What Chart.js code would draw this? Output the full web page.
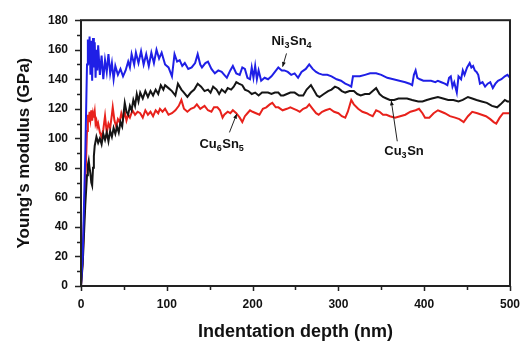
<!DOCTYPE html>
<html>
<head>
<meta charset="utf-8">
<script src="https://cdn.jsdelivr.net/npm/chart.js@4/dist/chart.umd.min.js"></script>
<style>
html,body{margin:0;padding:0;background:#fff;}
#wrap{width:531px;height:343px;position:relative;}
</style>
</head>
<body>
<div id="wrap"><canvas id="c" width="531" height="343"></canvas></div>
<script>
// ---- data ----
const ni3sn4Depth = [0,2,5,7,8,9,10,11,12,13,14,15,16,17,18,19,20,22,24,26,28,30,32,34,36,38,40,43,46,49,52,55,57,59,62,64,67,70,73,76,79,82,85,88,91,94,98,102,106,109,112,115,118,121,125,129,133,136,139,141,145,148,152,156,160,164,167,170,174,177,181,185,188,191,194,197,199,201,203,205,207,210,214,218,222,226,230,234,237,241,245,249,253,257,262,266,270,274,277,282,287,292,298,303,308,312,315,317,320,325,331,337,344,350,357,364,371,378,383,386,388,390,392,395,399,403,408,413,416,420,424,427,429,431,433,435,438,440,443,445,447,450,453,455,457,459,461,463,465,468,471,474,477,480,483,486,490,494,497,500];
const ni3sn4Modulus = [0,20,90,150,167,150,169,143,166,139,168,148,165,141,160,146,163,143,156,140,153,145,157,144,151,140,149,143,147,142,146,152,148,157,150,158,151,159,150,157,149,158,151,160,154,158,150,148,142,157,152,153,149,151,147,148,151,157,150,148,151,152,147,144,146,145,143,141,146,149,144,143,148,147,141,140,148,141,149,140,146,139,141,140,142,145,148,146,146,145,143,144,141,145,147,150,147,145,144,143,143,142,140,139,137,136,135,142,142,142,143,144,144,143,141,140,139,138,137,136,143,146,141,140,139,139,139,138,139,138,137,136,141,142,135,138,131,142,140,146,143,148,151,148,149,146,145,143,137,138,135,137,138,134,137,139,140,142,143,141];

const cu3snDepth = [0,2,5,7,8,9,10,11,12,13,14,15,16,18,20,22,24,26,28,30,32,34,36,38,40,42,44,46,48,51,53,55,57,59,61,63,65,67,69,72,75,78,81,84,87,90,93,96,98,102,106,110,113,117,120,124,128,132,136,140,144,148,151,154,158,161,164,168,171,175,178,181,184,188,191,195,199,203,207,211,215,218,222,226,230,233,236,240,244,249,254,259,263,268,272,275,278,283,288,292,296,300,304,308,313,318,322,326,331,336,340,344,348,352,356,360,365,370,375,380,386,393,398,403,409,416,422,428,434,440,445,451,456,461,467,473,479,485,489,494,497,500];
const cu3snModulus = [0,15,55,75,82,85,80,76,70,68,80,88,95,101,97,100,96,103,99,104,98,105,101,107,103,108,104,111,108,124,118,116,122,119,126,122,130,125,131,127,132,128,132,129,133,130,136,133,136,134,132,129,137,133,131,128,131,133,137,135,132,133,131,135,133,130,133,131,134,133,135,138,137,136,133,132,130,131,129,131,131,131,130,131,131,129,129,130,131,131,129,129,133,136,132,129,128,130,132,133,135,134,132,131,132,132,130,129,130,130,132,134,130,128,127,126,126,127,127,127,126,125,125,126,127,128,127,126,126,125,126,128,127,126,125,124,122,121,123,126,125,125];

const cu6sn5Depth = [0,2,5,7,8,9,10,11,12,13,14,15,16,17,18,19,20,22,24,26,28,30,32,34,36,37,39,41,43,45,47,49,51,53,55,57,60,63,66,69,72,75,78,81,84,87,90,92,95,98,102,106,110,114,117,120,124,128,132,135,139,144,148,152,155,159,162,165,167,171,174,177,181,185,188,191,194,197,200,204,208,212,216,220,223,227,230,235,240,244,248,252,255,259,263,266,270,274,277,281,285,290,295,300,304,308,311,315,318,323,328,333,336,340,344,348,352,356,360,366,372,378,384,390,394,398,401,406,411,416,420,424,430,436,441,446,451,456,462,467,472,477,481,484,488,492,496,500];
const cu6sn5Modulus = [0,18,70,105,116,111,118,113,119,112,117,114,118,110,112,108,110,104,101,106,115,104,110,107,116,121,112,108,113,111,117,113,118,112,116,114,119,116,118,117,114,119,116,118,115,119,117,120,118,120,116,117,119,122,126,120,118,120,121,123,120,122,119,118,121,121,119,114,116,118,117,119,117,114,111,115,117,119,118,117,116,120,121,123,124,121,121,119,120,121,120,119,118,120,121,123,120,117,116,118,119,120,118,117,115,114,118,126,123,120,118,117,116,115,119,118,116,116,115,114,115,116,118,119,120,117,114,114,117,119,118,117,115,114,113,111,115,118,117,116,115,113,111,110,114,117,117,117];

const seriesNames = ['Ni3Sn4', 'Cu3Sn', 'Cu6Sn5'];
const xTickValues = [0,100,200,300,400,500];
const yTickValues = [0,20,40,60,80,100,120,140,160,180];

const toPts = (xs, ys) => xs.map((x, i) => ({x: x, y: ys[i]}));

// annotations: [main,sub,main,sub], label anchor (data coords), arrow from/to (data coords)
const notes = [
  {parts: ['Ni','3','Sn','4'], at: [222, 163], from: [239.5, 157.5], to: [235, 148.5]},
  {parts: ['Cu','6','Sn','5'], at: [138, 93.5], from: [173, 104], to: [181.5, 116.5]},
  {parts: ['Cu','3','Sn'], at: [353.5, 89], from: [368.6, 98], to: [361.6, 125.5]}
];

const FONT = '"Liberation Sans", Arial, sans-serif';

const decor = {
  id: 'decor',
  afterDraw(chart) {
    const {ctx, chartArea: a, scales: {x, y}} = chart;
    ctx.save();
    ctx.strokeStyle = '#222';
    ctx.lineWidth = 2;
    ctx.strokeRect(a.left, a.top, a.right - a.left, a.bottom - a.top);
    ctx.lineWidth = 1.5;
    ctx.beginPath();
    for (let v = 0; v <= 180; v += 10) {
      const py = Math.round(y.getPixelForValue(v)) + 0.5;
      const len = (v % 20 === 0) ? 6 : 4;
      ctx.moveTo(a.left, py); ctx.lineTo(a.left - len, py);
    }
    for (let v = 0; v <= 500; v += 50) {
      const px = Math.round(x.getPixelForValue(v)) + 0.5;
      const len = (v % 100 === 0) ? 5 : 4;
      ctx.moveTo(px, a.bottom); ctx.lineTo(px, a.bottom + len);
    }
    ctx.stroke();

    // annotations
    ctx.fillStyle = '#111';
    ctx.textBaseline = 'alphabetic';
    ctx.textAlign = 'left';
    notes.forEach(n => {
      let px = x.getPixelForValue(n.at[0]);
      const py = y.getPixelForValue(n.at[1]);
      n.parts.forEach((t, i) => {
        const sub = i % 2 === 1;
        ctx.font = 'bold ' + (sub ? 9 : 13) + 'px ' + FONT;
        ctx.fillText(t, px, sub ? py + 3 : py);
        px += ctx.measureText(t).width + (sub ? 0.5 : 0);
      });
      const x1 = x.getPixelForValue(n.from[0]), y1 = y.getPixelForValue(n.from[1]);
      const x2 = x.getPixelForValue(n.to[0]), y2 = y.getPixelForValue(n.to[1]);
      ctx.strokeStyle = '#222';
      ctx.lineWidth = 1;
      ctx.beginPath(); ctx.moveTo(x1, y1); ctx.lineTo(x2, y2); ctx.stroke();
      const ang = Math.atan2(y2 - y1, x2 - x1);
      ctx.beginPath();
      ctx.moveTo(x2, y2);
      ctx.lineTo(x2 - 5 * Math.cos(ang - 0.4), y2 - 5 * Math.sin(ang - 0.4));
      ctx.lineTo(x2 - 5 * Math.cos(ang + 0.4), y2 - 5 * Math.sin(ang + 0.4));
      ctx.closePath(); ctx.fill();
    });
    ctx.restore();
  }
};

new Chart(document.getElementById('c'), {
  type: 'line',
  data: {
    datasets: [
      {label: seriesNames[0], data: toPts(ni3sn4Depth, ni3sn4Modulus), borderColor: '#1f1fe6', borderWidth: 2, pointRadius: 0, tension: 0, fill: false},
      {label: seriesNames[1], data: toPts(cu3snDepth, cu3snModulus), borderColor: '#151515', borderWidth: 2, pointRadius: 0, tension: 0, fill: false},
      {label: seriesNames[2], data: toPts(cu6sn5Depth, cu6sn5Modulus), borderColor: '#e8211b', borderWidth: 2, pointRadius: 0, tension: 0, fill: false}
    ]
  },
  options: {
    responsive: false,
    animation: false,
    devicePixelRatio: 1,
    layout: {padding: {left: 0, right: 19, top: 13, bottom: 0}},
    plugins: {legend: {display: false}, tooltip: {enabled: false}},
    scales: {
      x: {
        type: 'linear', min: 0, max: 500,
        afterFit: s => { s.height = 57; },
        afterBuildTicks: s => { s.ticks = xTickValues.map(v => ({value: v})); },
        grid: {display: false, drawTicks: false, tickLength: 0},
        border: {display: false},
        ticks: {color: '#111', padding: 11, font: {family: FONT, size: 12, weight: 'bold'}, maxRotation: 0},
        title: {display: true, text: 'Indentation depth (nm)', color: '#111', font: {family: FONT, size: 18, weight: 'bold'}, padding: {top: 0, bottom: 0}}
      },
      y: {
        type: 'linear', min: 0, max: 180,
        afterFit: s => { s.width = 81; },
        afterBuildTicks: s => { s.ticks = yTickValues.map(v => ({value: v})); },
        grid: {display: false, drawTicks: false, tickLength: 0},
        border: {display: false},
        ticks: {color: '#111', padding: 13, font: {family: FONT, size: 12, weight: 'bold'}},
        title: {display: true, text: "Young's modulus (GPa)", color: '#111', font: {family: FONT, size: 17, weight: 'bold'}, padding: {top: 14, bottom: 0}}
      }
    }
  },
  plugins: [decor]
});
</script>
</body>
</html>
